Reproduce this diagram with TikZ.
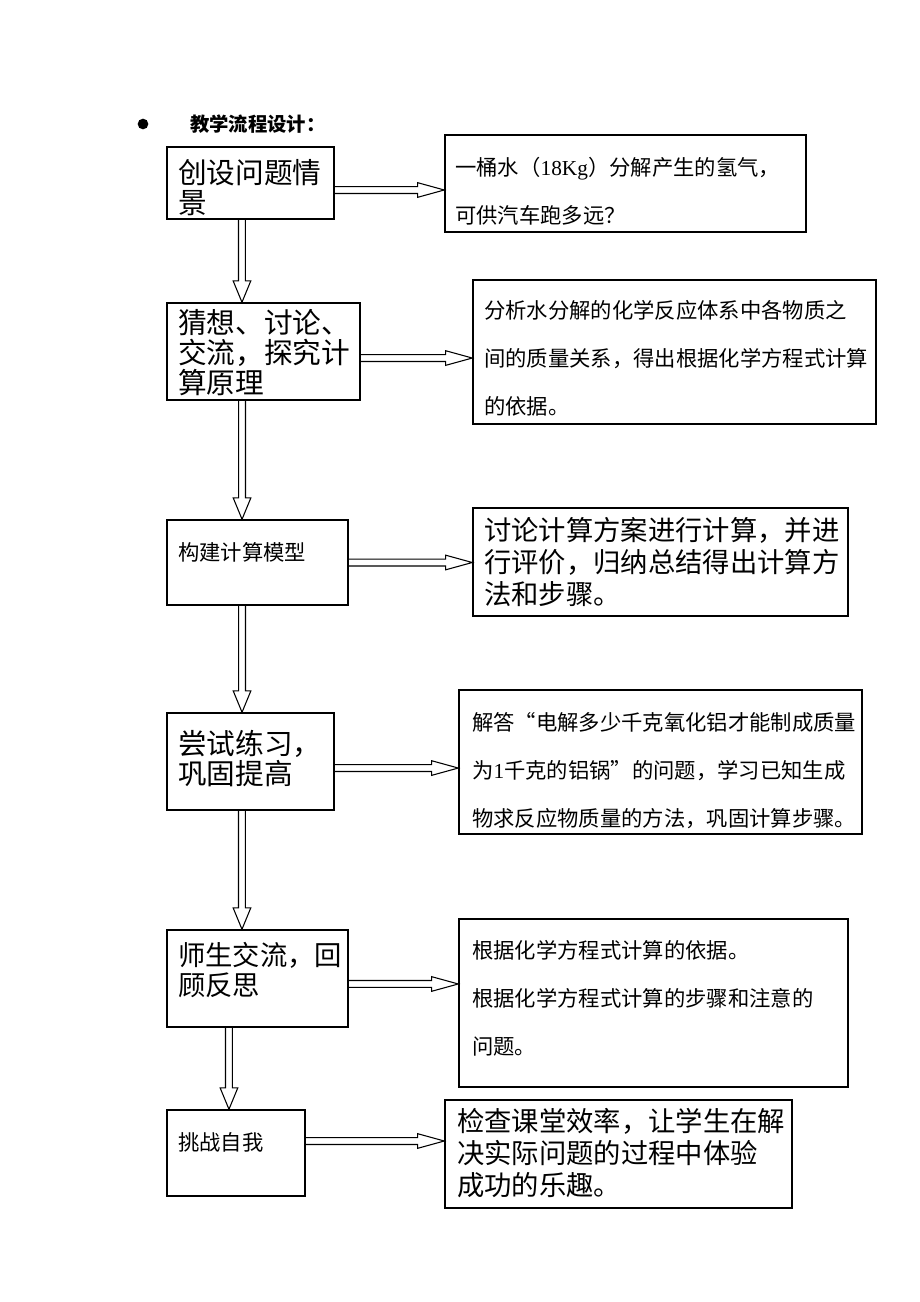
\documentclass[tikz,border=0pt]{standalone}
\usepackage{fontspec}
\setmainfont{Noto Sans CJK SC}
\newfontfamily\latserif{Liberation Serif}
\usetikzlibrary{calc, fit}

\begin{document}
\begin{tikzpicture}[x=0.75pt,y=0.75pt,yscale=-1,xscale=1,
		box/.style={draw, line width=1.1pt, inner sep=0pt},
		bigtxt/.style={anchor=north west, inner sep=0pt, align=left, font=\fontsize{21.5pt}{22.5pt}\selectfont},
		widetxt/.style={anchor=north west, inner sep=0pt, align=left, font=\fontsize{20.5pt}{24pt}\selectfont},
		smalltxt/.style={anchor=north west, inner sep=0pt, align=left, font=\fontsize{16pt}{36pt}\selectfont},
		hblock/.style={line width=0.8pt, to path={let \p1=(\tikztostart), \p2=(\tikztotarget) in
				(\x1,\y1+2.6pt) -- (\x2-20pt,\y1+2.6pt) -- (\x2-20pt,\y1+5.5pt) -- (\x2,\y1)
				-- (\x2-20pt,\y1-5.5pt) -- (\x2-20pt,\y1-2.6pt) -- (\x1,\y1-2.6pt)}},
		vblock/.style={line width=0.8pt, to path={let \p1=(\tikztostart), \p2=(\tikztotarget) in
				(\x1-2.6pt,\y1) -- (\x1-2.6pt,\y2-16pt) -- (\x1-6.6pt,\y2-16pt) -- (\x1,\y2)
				-- (\x1+6.6pt,\y2-16pt) -- (\x1+2.6pt,\y2-16pt) -- (\x1+2.6pt,\y1)}}]
	\useasboundingbox (0,0) rectangle (920,1302);
	
	% heading
	\node [circle, fill, inner sep=0pt, minimum size=8pt] (dot) at (143,124) {};
	\node [anchor=west, inner sep=0pt, font=\fontsize{14.5pt}{16pt}\selectfont\bfseries] (title) at (190,124) {教学流程设计：};
	
	% left column
	\node [box, fit={(167,147) (334,219)}] (l1) {};
	\node [box, fit={(167,303) (360,400)}] (l2) {};
	\node [box, fit={(167,520) (348,605)}] (l3) {};
	\node [box, fit={(167,713) (334,810)}] (l4) {};
	\node [box, fit={(167,930) (348,1027)}] (l5) {};
	\node [box, fit={(167,1110) (305,1196)}] (l6) {};
	
	% right column
	\node [box, fit={(445,135) (806,232)}] (r1) {};
	\node [box, fit={(473,280) (876,424)}] (r2) {};
	\node [box, fit={(473,508) (848,616)}] (r3) {};
	\node [box, fit={(459,690) (862,834)}] (r4) {};
	\node [box, fit={(459,919) (848,1087)}] (r5) {};
	\node [box, fit={(445,1100) (792,1208)}] (r6) {};
	
	% texts
	\node [bigtxt] (l1t) at (178,159) {创设问题情\\景};
	\node [bigtxt] (l2t) at (178,309) {猜想、讨论、\\交流，探究计\\算原理};
	\node [smalltxt] (l3t) at (178,542) {构建计算模型};
	\node [bigtxt] (l4t) at (178,730) {尝试练习，\\巩固提高};
	\node [bigtxt, font=\fontsize{20.5pt}{22.5pt}\selectfont] (l5t) at (178,942) {师生交流，回\\顾反思};
	\node [smalltxt] (l6t) at (178,1132) {挑战自我};
	
	\node [smalltxt] (r1t) at (455,157) {一桶水（{\latserif 18Kg}）分解产生的氢气，\\可供汽车跑多远？};
	\node [smalltxt] (r2t) at (484,300) {分析水分解的化学反应体系中各物质之\\间的质量关系，得出根据化学方程式计算\\的依据。};
	\node [widetxt] (r3t) at (484,517) {讨论计算方案进行计算，并进\\行评价，归纳总结得出计算方\\法和步骤。};
	\node [smalltxt] (r4t) at (472,712) {解答“电解多少千克氧化铝才能制成质量\\为{\latserif 1}千克的铝锅”的问题，学习已知生成\\物求反应物质量的方法，巩固计算步骤。};
	\node [smalltxt] (r5t) at (472,940) {根据化学方程式计算的依据。\\根据化学方程式计算的步骤和注意的\\问题。};
	\node [widetxt] (r6t) at (457,1108) {检查课堂效率，让学生在解\\决实际问题的过程中体验\\成功的乐趣。};
	
	% arrows to the right
	\draw [hblock] ([yshift=5.25pt]l1.east) to (r1.west);
	\draw [hblock] ([yshift=4.9pt]l2.east) to (r2.west);
	\draw [hblock] (l3.east) to (r3.west);
	\draw [hblock] ([yshift=4.9pt]l4.east) to (r4.west);
	\draw [hblock] ([yshift=4.1pt]l5.east) to (r5.west);
	\draw [hblock] ([yshift=-9pt]l6.east) to (r6.west);
	
	% arrows downwards
	\draw [vblock] ([xshift=-6.4pt]l1.south) to (l2.north);
	\draw [vblock] ([xshift=-16.1pt]l2.south) to (l3.north);
	\draw [vblock] ([xshift=-11.6pt]l3.south) to (l4.north);
	\draw [vblock] ([xshift=-6.4pt]l4.south) to (l5.north);
	\draw [vblock] ([xshift=-21.4pt]l5.south) to (l6.north);
	
\end{tikzpicture}
\end{document}
